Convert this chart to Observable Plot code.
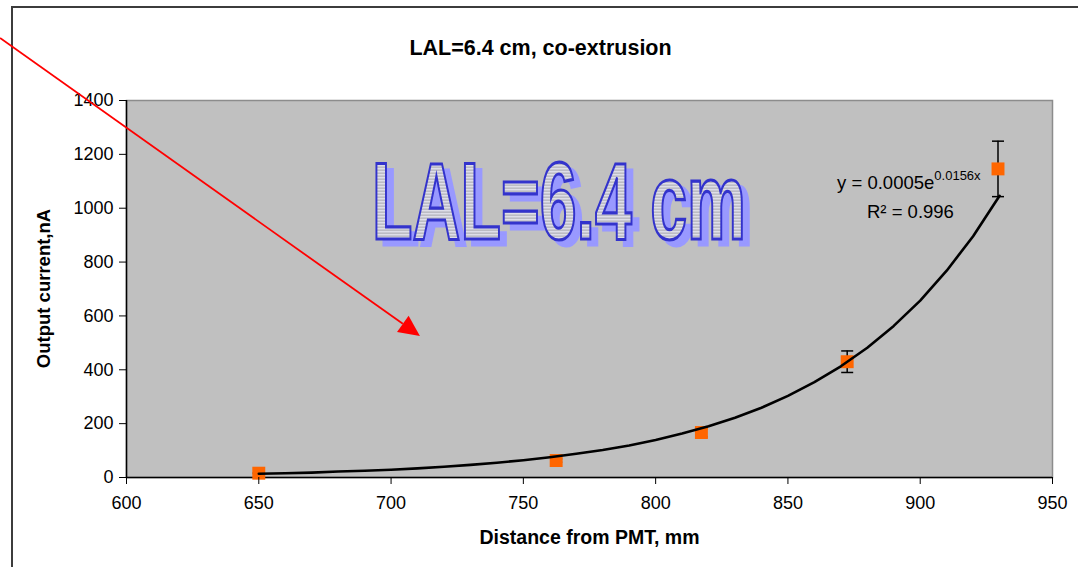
<!DOCTYPE html>
<html><head><meta charset="utf-8">
<script src="https://cdn.jsdelivr.net/npm/d3@7"></script>
<script src="https://cdn.jsdelivr.net/npm/@observablehq/plot@0.6"></script>
<style>html,body{margin:0;padding:0;background:#fff;} svg{display:block;}</style>
</head><body><div id="chart"></div>
<script>
// Measured points
const distance = [650, 762.4, 817.3, 872.4, 929.4];
const current  = [16, 63, 167, 430, 1146];
const errorBar = [1.5, 6, 16, 40, 103];

// Exponential trendline
const trendX = [650,660,670,680,690,700,710,720,730,740,750,760,770,780,790,800,810,820,830,840,850,860,870,880,890,900,910,920,930];
const trendY = [14,16,18,22,25,29,34,40,47,55,64,75,88,102,119,139,163,190,222,259,303,354,413,482,563,657,768,896,1046];

// Ticks
const xTicks = [600,650,700,750,800,850,900,950];
const yTicks = [0,200,400,600,800,1000,1200,1400];

// Texts
const titleText = "LAL=6.4 cm, co-extrusion";
const xLabel = "Distance from PMT, mm";
const yLabel = "Output current,nA";
const bigText = "LAL=6.4 cm";
const eqParts = [["y = 0.0005e", false], ["0.0156x", true]];
const r2Text = "R² = 0.996";

// Annotation anchors (data units)
const arrowFrom = [552.4, 1630];
const arrowTo = [711.1, 523.6];
const bigTextAnchor = [693, 882.6];
const eqAnchor = [895.9, 1069];
const r2Anchor = [896.5, 963];

const points = distance.map((d, i) => ({x: d, y: current[i], lo: current[i] - errorBar[i], hi: current[i] + errorBar[i]}));
const trend = trendX.map((d, i) => ({x: d, y: trendY[i]}));

const capSymbol = {
  draw(context, size) {
    const h = Math.sqrt(size / Math.PI);
    context.moveTo(-h, 0);
    context.lineTo(h, 0);
  }
};

const font = "'Liberation Sans', Arial, Helvetica, sans-serif";

const plot = Plot.plot({
  width: 1078,
  height: 567,
  marginLeft: 126,
  marginRight: 26,
  marginTop: 100,
  marginBottom: 90,
  style: {fontFamily: font, fontSize: "18px", color: "#000", background: "#fff", overflow: "visible"},
  x: {domain: [600, 950]},
  y: {domain: [0, 1400]},
  marks: [
    Plot.frame({fill: "#c0c0c0", stroke: "#8c8c8c", strokeWidth: 1.5}),
    Plot.ruleX(points, {x: "x", y1: "lo", y2: "hi", stroke: "#000", strokeWidth: 1.5}),
    Plot.dot(points, {x: "x", y: "lo", symbol: capSymbol, r: 6, fill: "none", stroke: "#000", strokeWidth: 1.5}),
    Plot.dot(points, {x: "x", y: "hi", symbol: capSymbol, r: 6, fill: "none", stroke: "#000", strokeWidth: 1.5}),
    Plot.ruleX([600], {stroke: "#000", strokeWidth: 1.5}),
    Plot.ruleY([0], {stroke: "#000", strokeWidth: 1.5}),
    Plot.dot(points, {x: "x", y: "y", symbol: "square", r: 7.3, fill: "#ff6600", stroke: "none"}),
    Plot.line(trend, {x: "x", y: "y", stroke: "#000", strokeWidth: 2.6}),
    Plot.axisX(xTicks, {tickSize: 7, tickPadding: 12, tickFormat: d => String(d), label: null, fontSize: 18}),
    Plot.axisY(yTicks, {tickSize: 7, tickPadding: 6, tickFormat: d => String(d), label: null, fontSize: 18}),
    Plot.text([xLabel], {frameAnchor: "bottom", dy: 66, fontWeight: "bold", fontSize: 19.5}),
    Plot.text([titleText], {frameAnchor: "top", dx: -49, dy: -61, fontWeight: "bold", fontSize: 21.5})
  ]
});

document.getElementById("chart").appendChild(plot);

const svg = d3.select(plot);
const sx = plot.scale("x"), sy = plot.scale("y");
const X = v => sx.apply(v), Y = v => sy.apply(v);

// Outer chart border (behind everything)
svg.insert("rect", ":first-child")
  .attr("x", 12).attr("y", 7).attr("width", 1120).attr("height", 620)
  .attr("fill", "none").attr("stroke", "#3c3c3c").attr("stroke-width", 2);

// Hatch pattern for the decorative text
const defs = svg.append("defs");
const pat = defs.append("pattern").attr("id", "hatch").attr("patternUnits", "userSpaceOnUse")
  .attr("width", 6).attr("height", 3);
pat.append("rect").attr("width", 6).attr("height", 3).attr("fill", "#bcbcc4");
pat.append("rect").attr("y", 0).attr("width", 6).attr("height", 1.4).attr("fill", "#dedee8");

const ann = svg.append("g");

// Y axis title
const midY = (Y(0) + Y(1400)) / 2;
ann.append("text")
  .attr("transform", `translate(${X(600) - 83},${midY}) rotate(-90)`)
  .attr("text-anchor", "middle").attr("dominant-baseline", "central")
  .attr("font-family", font).attr("font-weight", "bold").attr("font-size", 18.5).attr("fill", "#000")
  .text(yLabel);

// Decorative big text: shadow and outlined
const bx = X(bigTextAnchor[0]), by = Y(bigTextAnchor[1]);
const mkBig = (g, dx, dy) => g.append("text")
  .attr("x", bx + dx).attr("y", by + dy)
  .attr("text-anchor", "start")
  .attr("font-family", font).attr("font-weight", "bold").attr("font-size", 110)
  .attr("textLength", 374).attr("lengthAdjust", "spacingAndGlyphs")
  .text(bigText);
mkBig(ann, 7, 6).attr("fill", "#9999ff").attr("stroke", "#9999ff").attr("stroke-width", 3);
mkBig(ann, 0, 0).attr("fill", "url(#hatch)").attr("stroke", "#3333cc").attr("stroke-width", 3.2).attr("stroke-linejoin", "miter");

// Equation line built from separate text pieces (superscript raised)
function richLine(parts, cx, baseline) {
  const els = parts.map(([t, sup]) => ann.append("text")
    .attr("text-anchor", "start").attr("font-family", font)
    .attr("font-size", sup ? 13 : 18.5).attr("fill", "#000")
    .attr("y", sup ? baseline - 9 : baseline).text(t));
  const widths = els.map(e => e.node().getComputedTextLength());
  let x = cx - d3.sum(widths) / 2;
  els.forEach((e, i) => { e.attr("x", x); x += widths[i]; });
}
richLine(eqParts, X(eqAnchor[0]), Y(eqAnchor[1]));
ann.append("text").attr("x", X(r2Anchor[0])).attr("y", Y(r2Anchor[1]))
  .attr("text-anchor", "middle").attr("font-family", font).attr("font-size", 18.5).attr("fill", "#000")
  .text(r2Text);

// Red arrow
const x0 = X(arrowFrom[0]), y0 = Y(arrowFrom[1]), x1 = X(arrowTo[0]), y1 = Y(arrowTo[1]);
const ang = Math.atan2(y1 - y0, x1 - x0);
const headLen = 21, headHalf = 10;
const bxh = x1 - headLen * Math.cos(ang), byh = y1 - headLen * Math.sin(ang);
ann.append("line").attr("x1", x0).attr("y1", y0).attr("x2", bxh).attr("y2", byh)
  .attr("stroke", "#ff0000").attr("stroke-width", 1.8);
ann.append("path")
  .attr("d", `M${x1},${y1}L${bxh - headHalf * Math.sin(ang)},${byh + headHalf * Math.cos(ang)}L${bxh + headHalf * Math.sin(ang)},${byh - headHalf * Math.cos(ang)}Z`)
  .attr("fill", "#ff0000");
</script>
</body></html>
